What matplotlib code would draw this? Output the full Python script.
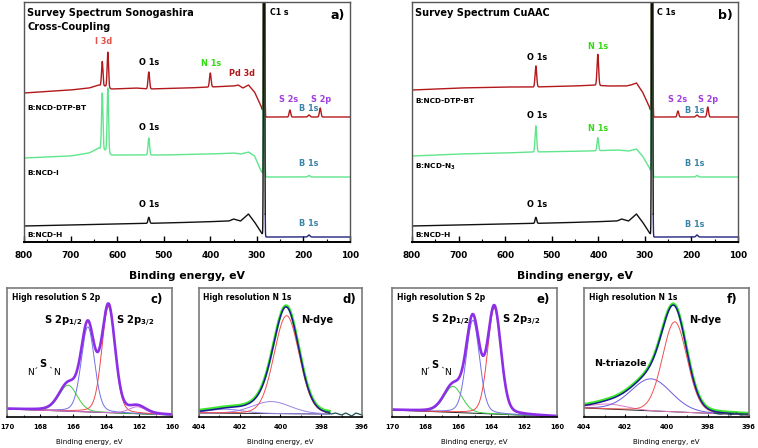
import numpy as np
import matplotlib
matplotlib.use('Agg')
import matplotlib.pyplot as plt
from matplotlib.ticker import MultipleLocator

plt.rcParams['font.family'] = ['DejaVu Sans']
plt.rcParams['mathtext.fontset'] = 'dejavusans'

# ---------------- data ----------------
# Survey spectra: baseline knots (binding energy, intensity) + peaks (centre, height, FWHM)
a_red_base_E = [800, 700, 660, 640, 625, 612, 560, 533, 450, 400, 350, 340, 330, 318, 305, 291, 284, 280, 100]
a_red_base_I = [149, 152, 154, 157, 156, 153, 154, 153, 154, 155, 156, 157, 154, 157, 150, 136, 126, 125, 125]
a_red_pk_E = [632, 620, 532, 400, 229, 188, 164, 284.5]
a_red_pk_H = [24, 35, 17, 14, 7, 2, 9, 800]
a_red_pk_W = [3.5, 3.5, 4, 4, 4, 5, 4, 2.2]

a_grn_base_E = [800, 700, 660, 640, 625, 612, 560, 500, 400, 350, 335, 318, 305, 292, 284, 280, 100]
a_grn_base_I = [84, 86, 89, 94, 92, 87, 87, 87, 88, 89, 88, 90, 86, 72, 66, 65, 65]
a_grn_pk_E = [632, 620, 532, 188, 284.5]
a_grn_pk_H = [56, 64, 17, 1.5, 800]
a_grn_pk_W = [3.5, 3.5, 4, 5, 2.2]

a_blk_base_E = [800, 700, 600, 500, 420, 360, 350, 335, 318, 305, 290, 284, 280, 100]
a_blk_base_I = [16, 17, 18, 19, 20, 21, 23, 21, 28, 20, 9, 6, 5, 5]
a_blk_pk_E = [532, 188, 284.5]
a_blk_pk_H = [6, 2, 800]
a_blk_pk_W = [4, 5, 2.2]

b_red_base_E = [800, 700, 600, 540, 450, 410, 380, 340, 330, 318, 305, 291, 284, 280, 100]
b_red_base_I = [152, 154, 155, 155, 156, 157, 156, 156, 157, 159, 150, 136, 126, 125, 125]
b_red_pk_E = [534, 401, 229, 188, 165, 284.5]
b_red_pk_H = [21, 31, 6, 2, 10, 800]
b_red_pk_W = [4, 4, 4, 5, 4, 2.2]

b_grn_base_E = [800, 700, 600, 540, 420, 360, 335, 318, 305, 290, 284, 280, 100]
b_grn_base_I = [86, 88, 89, 90, 91, 92, 91, 93, 86, 74, 66, 65, 65]
b_grn_pk_E = [534, 401, 188, 284.5]
b_grn_pk_H = [26, 13, 1.5, 800]
b_grn_pk_W = [4, 4, 5, 2.2]

b_blk_base_E = [800, 700, 600, 500, 420, 360, 350, 335, 318, 305, 290, 284, 280, 100]
b_blk_base_I = [16, 17, 18, 19, 20, 21, 23, 21, 28, 20, 9, 6, 5, 5]
b_blk_pk_E = [534, 188, 284.5]
b_blk_pk_H = [6, 2, 800]
b_blk_pk_W = [4, 5, 2.2]

survey_ticks = [800, 700, 600, 500, 400, 300, 200, 100]

# High resolution fits: background (two ends) + components (centre, height, FWHM)
c_bg_E = [170, 160]; c_bg_I = [8, 2]
c_comp_E = [166.3, 165.1, 163.85, 162.1]
c_comp_H = [26, 85, 106, 7]
c_comp_W = [1.3, 0.95, 0.95, 1.2]

d_bg_E = [404, 397.6]; d_bg_I = [4, 3]
d_comp_E = [402.7, 400.45, 399.7]
d_comp_H = [4, 12, 98]
d_comp_W = [2.0, 2.2, 1.45]
d_tail_E = [397.8, 397.5, 397.3, 397.0, 396.8, 396.5, 396.3, 396.0]
d_tail_I = [5, 3, 4, 2, 4, 1, 4, 2]

e_bg_E = [170, 160]; e_bg_I = [7, 0.5]
e_comp_E = [166.3, 165.1, 163.8]
e_comp_H = [26, 93, 106]
e_comp_W = [1.3, 0.95, 0.95]

f_bg_E = [404, 396]; f_bg_I = [9, 2]
f_comp_E = [402.8, 400.75, 399.6]
f_comp_H = [5, 32, 90]
f_comp_W = [2.0, 2.3, 1.4]
f_tail_E = [397.7, 397.4, 397.1, 396.9, 396.6, 396.4, 396.0]
f_tail_I = [4, 3, 4, 2, 4, 2, 3]

s2p_ticks = [170, 168, 166, 164, 162, 160]
n1s_ticks = [404, 402, 400, 398, 396]

# ---------------- helpers ----------------
def pv(E, c, h, w, eta=0.2):
    x = (E - c) / (w / 2.0)
    return h * ((1 - eta) * np.exp(-np.log(2) * x ** 2) + eta / (1 + x ** 2))

def survey(E, bE, bI, pE, pH, pW):
    y = np.interp(E, bE[::-1], bI[::-1])
    for c, h, w in zip(pE, pH, pW):
        y = y + pv(E, c, h, w, eta=0.0)
    return y

W, H = 758, 448
fig = plt.figure(figsize=(W / 100, H / 100), dpi=100)

def ax_px(l, t, r, b):
    return fig.add_axes([l / W, 1 - b / H, (r - l) / W, (b - t) / H])

RED = '#b3181b'
GRN = '#5fe58c'
BLK = '#111111'
NAVY = '#23237f'
BLUE_LBL = '#3a85a8'
PURP_LBL = '#a23ee0'

def style_survey(ax):
    ax.set_xlim(800, 100)
    ax.set_ylim(0, 240)
    ax.set_yticks([])
    ax.set_xticks(survey_ticks)
    ax.xaxis.set_minor_locator(MultipleLocator(50))
    ax.tick_params(axis='x', which='major', direction='in', length=4, width=1, pad=6.5,
                   labelsize=6.4)
    ax.tick_params(axis='x', which='minor', direction='in', length=2.5, width=0.8)
    for lab in ax.get_xticklabels():
        lab.set_fontweight('bold')
    for s in ['top', 'right', 'left']:
        ax.spines[s].set_color('#555555')
        ax.spines[s].set_linewidth(1.0)
    ax.spines['bottom'].set_color('black')
    ax.spines['bottom'].set_linewidth(1.4)
    ax.set_xlabel('Binding energy, eV', fontsize=7.8, fontweight='bold', labelpad=8)

Es = np.arange(800, 99.9, -0.25)

def draw_black(ax, bE, bI, pE, pH, pW):
    y = survey(Es, bE, bI, pE, pH, pW)
    m1 = Es >= 282
    m2 = Es <= 282
    ax.plot(Es[m2], y[m2], color=NAVY, lw=1.0)
    ax.plot(Es[m1], y[m1], color=BLK, lw=1.0)

# ---------------- panel a ----------------
axa = ax_px(24, 2, 350, 242)
axa.plot(Es, survey(Es, a_red_base_E, a_red_base_I, a_red_pk_E, a_red_pk_H, a_red_pk_W), color=RED, lw=1.0)
axa.plot(Es, survey(Es, a_grn_base_E, a_grn_base_I, a_grn_pk_E, a_grn_pk_H, a_grn_pk_W), color=GRN, lw=1.0)
draw_black(axa, a_blk_base_E, a_blk_base_I, a_blk_pk_E, a_blk_pk_H, a_blk_pk_W)
style_survey(axa)

fs_pk = 5.9
kw = dict(fontsize=fs_pk, fontweight='bold', ha='center', va='center')
axa.text(793.5, 229, 'Survey Spectrum Sonogashira', fontsize=7, fontweight='bold', ha='left', va='center')
axa.text(793.5, 215, 'Cross-Coupling', fontsize=7, fontweight='bold', ha='left', va='center')
axa.text(272, 230, 'C1 s', fontsize=5.7, fontweight='bold', ha='left', va='center')
axa.text(126, 227, 'a)', fontsize=9, fontweight='bold', ha='center', va='center')
axa.text(630, 201, 'I 3d', color='#e0504a', **kw)
axa.text(532, 180, 'O 1s', color='black', **kw)
axa.text(398.5, 179, 'N 1s', color='#36d915', **kw)
axa.text(332, 169, 'Pd 3d', color='#b01818', **kw)
axa.text(231, 143, 'S 2s', color=PURP_LBL, **kw)
axa.text(162, 143, 'S 2p', color=PURP_LBL, **kw)
axa.text(188, 134, 'B 1s', color=BLUE_LBL, **kw)
axa.text(793.5, 134, 'B:NCD-DTP-BT', fontsize=5.3, fontweight='bold', ha='left', va='center')
axa.text(532, 115, 'O 1s', color='black', **kw)
axa.text(793.5, 69, 'B:NCD-I', fontsize=5.3, fontweight='bold', ha='left', va='center')
axa.text(188, 79, 'B 1s', color=BLUE_LBL, **kw)
axa.text(532, 38, 'O 1s', color='black', **kw)
axa.text(188, 19, 'B 1s', color=BLUE_LBL, **kw)
axa.text(793.5, 7, 'B:NCD-H', fontsize=5.3, fontweight='bold', ha='left', va='center')

# ---------------- panel b ----------------
axb = ax_px(412, 2, 738, 242)
axb.plot(Es, survey(Es, b_red_base_E, b_red_base_I, b_red_pk_E, b_red_pk_H, b_red_pk_W), color=RED, lw=1.0)
axb.plot(Es, survey(Es, b_grn_base_E, b_grn_base_I, b_grn_pk_E, b_grn_pk_H, b_grn_pk_W), color=GRN, lw=1.0)
draw_black(axb, b_blk_base_E, b_blk_base_I, b_blk_pk_E, b_blk_pk_H, b_blk_pk_W)
style_survey(axb)

axb.text(793.5, 229, 'Survey Spectrum CuAAC', fontsize=7, fontweight='bold', ha='left', va='center')
axb.text(274, 230, 'C 1s', fontsize=5.7, fontweight='bold', ha='left', va='center')
axb.text(128, 227, 'b)', fontsize=9, fontweight='bold', ha='center', va='center')
axb.text(532, 185, 'O 1s', color='black', **kw)
axb.text(401, 196, 'N 1s', color='#36d915', **kw)
axb.text(229, 143, 'S 2s', color=PURP_LBL, **kw)
axb.text(164, 143, 'S 2p', color=PURP_LBL, **kw)
axb.text(192, 132, 'B 1s', color=BLUE_LBL, **kw)
axb.text(793.5, 141, 'B:NCD-DTP-BT', fontsize=5.3, fontweight='bold', ha='left', va='center')
axb.text(532, 127, 'O 1s', color='black', **kw)
axb.text(401, 114, 'N 1s', color='#36d915', **kw)
axb.text(793.5, 75, r'B:NCD-N$_{\mathbf{3}}$', fontsize=5.3, fontweight='bold', ha='left', va='center')
axb.text(192, 79, 'B 1s', color=BLUE_LBL, **kw)
axb.text(532, 38, 'O 1s', color='black', **kw)
axb.text(192, 18, 'B 1s', color=BLUE_LBL, **kw)
axb.text(793.5, 7, 'B:NCD-H', fontsize=5.3, fontweight='bold', ha='left', va='center')

# ---------------- high-resolution panels ----------------
def style_hr(ax, xlim, ticks):
    ax.set_xlim(*xlim)
    ax.set_ylim(0, 129)
    ax.set_yticks([])
    ax.set_xticks(ticks)
    ax.xaxis.set_minor_locator(MultipleLocator(1))
    ax.tick_params(axis='x', which='major', direction='in', length=2.5, width=0.8, pad=5,
                   labelsize=4.9)
    ax.tick_params(axis='x', which='minor', direction='in', length=1.5, width=0.6)
    for lab in ax.get_xticklabels():
        lab.set_fontweight('bold')
    for s in ['top', 'right', 'left']:
        ax.spines[s].set_color('#7a7a7a')
        ax.spines[s].set_linewidth(1.2)
    ax.spines['bottom'].set_color('black')
    ax.spines['bottom'].set_linewidth(1.2)
    ax.set_xlabel('Binding energy, eV', fontsize=5.0, labelpad=6.5)

S_COLS = ['#3ccf3c', '#7070e6', '#f04848', '#d46ed4']

def draw_s2p(ax, bgE, bgI, cE, cH, cW, cols):
    E = np.arange(170, 159.99, -0.02)
    bg = np.interp(E, bgE[::-1], bgI[::-1])
    env = bg.copy()
    ax.plot(E, bg, color='#222222', lw=0.7)
    for c, h, w, col in zip(cE, cH, cW, cols):
        comp = pv(E, c, h, w)
        env = env + comp
        ax.plot(E, bg + comp, color=col, lw=0.7)
    ax.plot(E, env, color='#8c2fe6', lw=1.9)

def nsn(ax, n1, s, n2, d1, d2):
    ax.text(*n1, 'N', fontsize=6.6, ha='center', va='center')
    ax.text(*s, 'S', fontsize=7, fontweight='bold', ha='center', va='center')
    ax.text(*n2, 'N', fontsize=6.6, ha='center', va='center')
    ax.text(*d1, '-', fontsize=5.5, ha='center', va='center', rotation=35)
    ax.text(*d2, '-', fontsize=5.5, ha='center', va='center', rotation=-35)

def draw_n1s(ax, bgE, bgI, cE, cH, cW, cols, tE, tI):
    E = np.arange(404, bgE[1] - 0.001, -0.02)
    bg = np.interp(E, bgE[::-1], bgI[::-1])
    env = bg.copy()
    comps = []
    for c, h, w in zip(cE, cH, cW):
        comp = pv(E, c, h, w, eta=0.1)
        env = env + comp
        comps.append(comp)
    ax.plot(E, env + 1.2, color='#3be82a', lw=2.0)
    ax.plot(E, bg, color='#222222', lw=0.7)
    for comp, col in zip(comps, cols):
        ax.plot(E, bg + comp, color=col, lw=0.7)
    ax.plot(E, env, color='#1c1c96', lw=1.1)
    ax.plot(tE, tI, color='#1f4f4f', lw=0.9)

# panel c
axc = ax_px(7, 288, 172, 417)
draw_s2p(axc, c_bg_E, c_bg_I, c_comp_E, c_comp_H, c_comp_W, S_COLS)
style_hr(axc, (170, 160), s2p_ticks)
axc.text(169.7, 119, 'High resolution S 2p', fontsize=5.5, fontweight='bold', ha='left', va='center')
axc.text(160.9, 117, 'c)', fontsize=8.5, fontweight='bold', ha='center', va='center')
axc.text(166.6, 96, r'S 2p$_{\mathbf{1/2}}$', fontsize=7.2, fontweight='bold', ha='center', va='center')
axc.text(162.25, 96, r'S 2p$_{\mathbf{3/2}}$', fontsize=7.2, fontweight='bold', ha='center', va='center')
nsn(axc, (168.55, 45), (167.8, 53), (166.97, 45), (168.18, 49.5), (167.4, 49.5))

# panel d
axd = ax_px(199, 288, 362, 417)
draw_n1s(axd, d_bg_E, d_bg_I, d_comp_E, d_comp_H, d_comp_W,
         ['#8f7fe6', '#9b80e8', '#f05050'], d_tail_E, d_tail_I)
style_hr(axd, (404, 396), n1s_ticks)
axd.text(403.8, 119, 'High resolution N 1s', fontsize=5.5, fontweight='bold', ha='left', va='center')
axd.text(396.6, 117, 'd)', fontsize=8.5, fontweight='bold', ha='center', va='center')
axd.text(398.2, 97, 'N-dye', fontsize=7, fontweight='bold', ha='center', va='center')

# panel e
axe = ax_px(392, 288, 557, 417)
draw_s2p(axe, e_bg_E, e_bg_I, e_comp_E, e_comp_H, e_comp_W, S_COLS[:3])
style_hr(axe, (170, 160), s2p_ticks)
axe.text(169.7, 119, 'High resolution S 2p', fontsize=5.5, fontweight='bold', ha='left', va='center')
axe.text(160.85, 117, 'e)', fontsize=8.5, fontweight='bold', ha='center', va='center')
axe.text(166.5, 97, r'S 2p$_{\mathbf{1/2}}$', fontsize=7.2, fontweight='bold', ha='center', va='center')
axe.text(162.2, 97, r'S 2p$_{\mathbf{3/2}}$', fontsize=7.2, fontweight='bold', ha='center', va='center')
nsn(axe, (168.1, 45), (167.4, 52), (166.65, 45), (167.78, 49.5), (167.0, 49.5))

# panel f
axf = ax_px(584, 288, 749, 417)
draw_n1s(axf, f_bg_E, f_bg_I, f_comp_E, f_comp_H, f_comp_W,
         ['#e07cc4', '#6a5ae0', '#f05050'], f_tail_E, f_tail_I)
style_hr(axf, (404, 396), n1s_ticks)
axf.text(403.76, 119, 'High resolution N 1s', fontsize=5.5, fontweight='bold', ha='left', va='center')
axf.text(396.8, 117, 'f)', fontsize=8.5, fontweight='bold', ha='center', va='center')
axf.text(402.25, 54, 'N-triazole', fontsize=6.8, fontweight='bold', ha='center', va='center')
axf.text(398.1, 97, 'N-dye', fontsize=7, fontweight='bold', ha='center', va='center')

fig.savefig('out.png', dpi=100)
